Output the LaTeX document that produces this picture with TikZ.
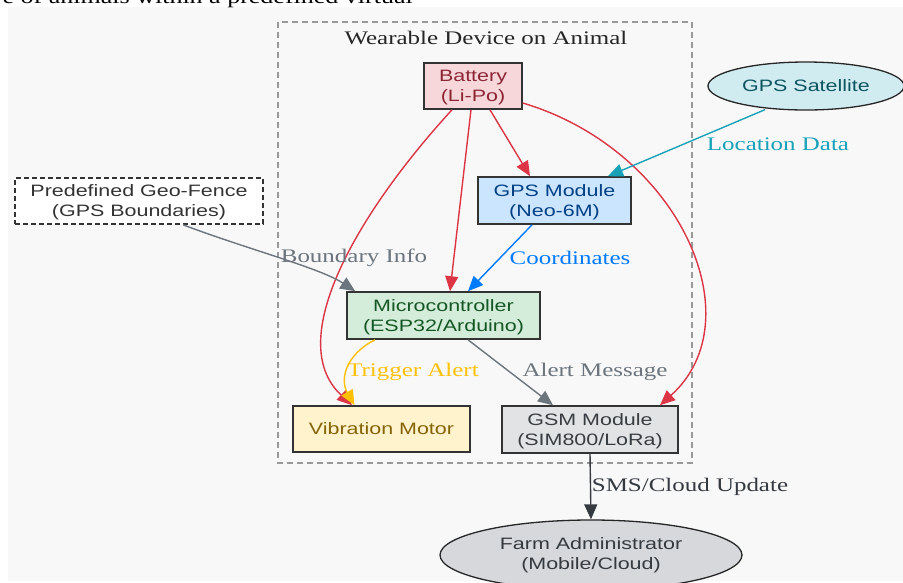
\documentclass[tikz,border=0pt]{standalone}
\usepackage{fontspec}
\setmainfont{Liberation Serif}[FakeStretch=1.3]
\newfontfamily\boxfont{Liberation Sans}[FakeStretch=1.3]
\usetikzlibrary{shapes.geometric,arrows.meta,calc}
\definecolor{bggray}{HTML}{F8F8F8}
\definecolor{clgray}{HTML}{999999}
\definecolor{bordr}{HTML}{333333}
\definecolor{redc}{HTML}{DC3545}
\definecolor{tealc}{HTML}{17A2B8}
\definecolor{bluec}{HTML}{007BFF}
\definecolor{grayc}{HTML}{6C757D}
\definecolor{yelc}{HTML}{FFC107}
\definecolor{darkc}{HTML}{343A40}
\definecolor{batfill}{HTML}{F8D7DA}\definecolor{battext}{HTML}{8B2635}
\definecolor{gpsfill}{HTML}{CCE5FF}\definecolor{gpstext}{HTML}{004085}
\definecolor{satfill}{HTML}{D1ECF1}\definecolor{sattext}{HTML}{0C5460}
\definecolor{mcufill}{HTML}{D4EDDA}\definecolor{mcutext}{HTML}{155724}
\definecolor{vibfill}{HTML}{FFF3CD}\definecolor{vibtext}{HTML}{856404}
\definecolor{gsmfill}{HTML}{E2E3E5}\definecolor{gsmtext}{HTML}{383D41}
\definecolor{farmfill}{HTML}{D6D8DB}
\tikzset{
  boxn/.style={draw=bordr, line width=1.6pt, rectangle, inner sep=0pt, align=center,
    font=\boxfont\fontsize{16.5}{20}\selectfont},
  twoline/.style={text depth=-2pt},
  elln/.style={draw=black!85, line width=1.3pt, ellipse, inner sep=0pt, align=center,
    font=\boxfont\fontsize{16.5}{20}\selectfont},
  edge/.style={line width=1.4pt, -{Triangle[length=15pt,width=13pt]}},
  lbl/.style={font=\fontsize{19.2}{22}\selectfont, inner sep=0pt},
}
\begin{document}
\begin{tikzpicture}[x=1pt,y=-1pt]
\useasboundingbox (0,0) rectangle (903,582);
\fill[bggray] (8,7) rectangle (903,581);
\node[anchor=base east, inner sep=0pt, font=\fontsize{20}{24}\selectfont] (toptext) at (413,3) {e of animals within a predefined virtual};
% cluster
\draw[clgray, line width=1.3pt, dash pattern=on 6pt off 4pt] (278,22) rectangle (692,463);
\node[lbl, text=black!85] (title) at (486,38) {Wearable Device on Animal};
% nodes
\node[boxn, twoline, fill=batfill, text=battext, minimum width=98pt, minimum height=46pt] (bat) at (473,86) {Battery\\(Li-Po)};
\node[elln, fill=satfill, text=sattext, minimum width=196pt, minimum height=48pt] (sat) at (806,86) {GPS Satellite};
\node[boxn, twoline, fill=gpsfill, text=gpstext, minimum width=153pt, minimum height=47pt] (gps) at (554.5,200.5) {GPS Module\\(Neo-6M)};
\node[boxn, twoline, draw=bordr, dash pattern=on 5pt off 3pt, fill=white, text=bordr, minimum width=248pt, minimum height=46pt] (fence) at (139,201) {Predefined Geo-Fence\\(GPS Boundaries)};
\node[boxn, twoline, fill=mcufill, text=mcutext, minimum width=193pt, minimum height=47pt] (mcu) at (443.5,315.5) {Microcontroller\\(ESP32/Arduino)};
\node[boxn, fill=vibfill, text=vibtext, minimum width=177pt, minimum height=46pt] (vib) at (381.5,429) {Vibration Motor};
\node[boxn, twoline, fill=gsmfill, text=gsmtext, minimum width=176pt, minimum height=47pt] (gsm) at (590,429.5) {GSM Module\\(SIM800/LoRa)};
\node[elln, fill=farmfill, text=darkc, minimum width=302pt, minimum height=70pt] (farm) at (591,555) {Farm Administrator\\(Mobile/Cloud)};
% edges from battery
\draw[edge, redc] ($(bat.south)+(17,0)$) -- ($(gps.north)+(-24.5,0)$);
\draw[edge, redc] ($(bat.south)+(-2,0)$) -- ($(mcu.north)+(6.5,0)$);
\draw[edge, redc] ($(bat.south)+(-21,0)$) .. controls (360,210) and (282,340) .. ($(vib.north)+(-29.5,0)$);
\draw[edge, redc] ($(bat.east)+(0,17)$) .. controls (680,150) and (755,320) .. ($(gsm.north)+(70,0)$);
% other edges
\draw[edge, tealc] ($(sat.south)+(-41,-1)$) -- ($(gps.north)+(53.5,0)$);
\draw[edge, grayc] ($(fence.south)+(44,0)$) .. controls (250,250) and (320,268) .. ($(mcu.north west)+(9,0)$);
\draw[edge, bluec] ($(gps.south)+(-22.5,0)$) -- ($(mcu.north)+(24.5,0)$);
\draw[edge, yelc] ($(mcu.south)+(-68.5,0)$) .. controls (345,355) and (340,380) .. ($(vib.north)+(-27,0)$);
\draw[edge, grayc] ($(mcu.south)+(24.5,0)$) -- ($(gsm.north)+(-37,0)$);
\draw[edge, darkc] (gsm.south) -- (farm.north);
% labels
\node[lbl, text=tealc] (l1) at (778,144) {Location Data};
\node[lbl, text=grayc] (l2) at (354,258) {Boundary Info};
\node[lbl, text=bluec] (l3) at (570,258) {Coordinates};
\node[lbl, text=yelc] (l4) at (413,372) {Trigger Alert};
\node[lbl, text=grayc] (l5) at (595,372) {Alert Message};
\node[lbl, text=darkc] (l6) at (690,487) {SMS/Cloud Update};
\end{tikzpicture}
\end{document}
